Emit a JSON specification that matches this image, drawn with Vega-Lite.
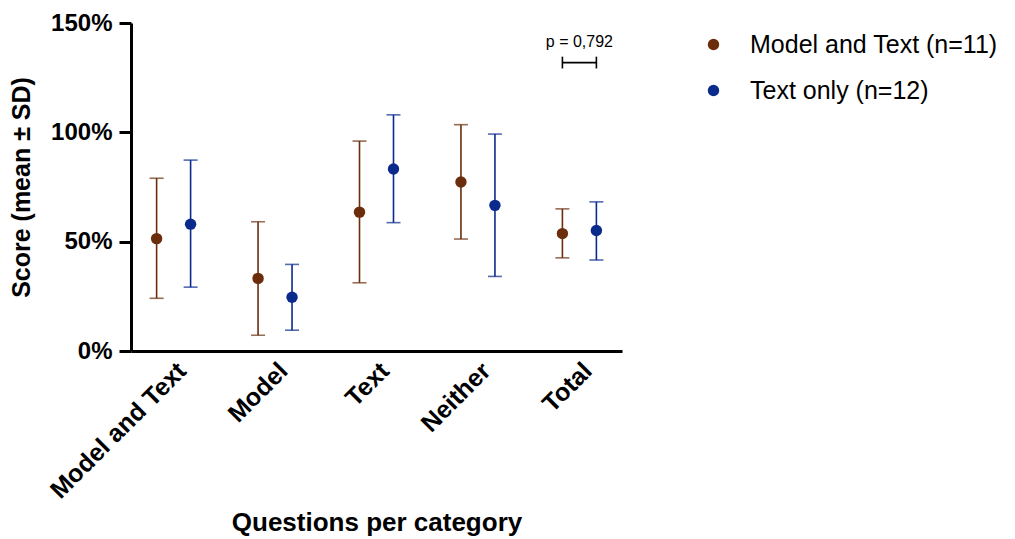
{
  "$schema": "https://vega.github.io/schema/vega-lite/v6.json",
  "width": 491,
  "height": 328,
  "autosize": {"type": "none"},
  "padding": {"left": 131, "top": 23, "right": 393, "bottom": 188},
  "background": "white",
  "config": {
    "view": {"stroke": null},
    "font": "Liberation Sans",
    "axis": {"grid": false}
  },
  "data": {
    "values": [
      {"cat": "Model and Text", "group": "Model and Text (n=11)", "mean": 51.4, "lo": 24.1, "hi": 79.0},
      {"cat": "Model and Text", "group": "Text only (n=12)", "mean": 58.0, "lo": 29.2, "hi": 87.3},
      {"cat": "Model", "group": "Model and Text (n=11)", "mean": 33.2, "lo": 7.2, "hi": 59.1},
      {"cat": "Model", "group": "Text only (n=12)", "mean": 24.6, "lo": 9.5, "hi": 39.6},
      {"cat": "Text", "group": "Model and Text (n=11)", "mean": 63.5, "lo": 31.2, "hi": 96.0},
      {"cat": "Text", "group": "Text only (n=12)", "mean": 83.2, "lo": 58.7, "hi": 108.0},
      {"cat": "Neither", "group": "Model and Text (n=11)", "mean": 77.3, "lo": 51.2, "hi": 103.5},
      {"cat": "Neither", "group": "Text only (n=12)", "mean": 66.6, "lo": 34.1, "hi": 99.2},
      {"cat": "Total", "group": "Model and Text (n=11)", "mean": 53.7, "lo": 42.6, "hi": 65.0},
      {"cat": "Total", "group": "Text only (n=12)", "mean": 55.1, "lo": 41.6, "hi": 68.2}
    ]
  },
  "encoding": {
    "x": {
      "field": "cat",
      "type": "nominal",
      "sort": ["Model and Text", "Model", "Text", "Neither", "Total"],
      "scale": {"paddingInner": 0.33, "paddingOuter": 0.085},
      "axis": {
        "title": "Questions per category",
        "labelAngle": -45,
        "labelFontSize": 25,
        "labelFontWeight": "bold",
        "labelColor": "black",
        "labelPadding": 7,
        "labelLimit": 0,
        "ticks": false,
        "domainWidth": 3,
        "domainColor": "black",
        "titleFontSize": 26,
        "titleFontWeight": "bold",
        "titleColor": "black",
        "titleBaseline": "alphabetic",
        "titleY": 179
      }
    },
    "xOffset": {
      "field": "group",
      "type": "nominal",
      "sort": ["Model and Text (n=11)", "Text only (n=12)"],
      "scale": {"paddingInner": 0, "paddingOuter": 0}
    }
  },
  "layer": [
    {
      "mark": {"type": "point", "filled": true, "size": 130, "opacity": 1, "shape": "circle"},
      "encoding": {
        "y": {
          "field": "mean",
          "type": "quantitative",
          "scale": {"domain": [0, 150], "nice": false, "zero": true},
          "axis": {
            "values": [0, 50, 100, 150],
            "labelExpr": "datum.value + '%'",
            "title": "Score (mean ± SD)",
            "labelFontSize": 24,
            "labelFontWeight": "bold",
            "labelColor": "black",
            "labelPadding": 7,
            "tickSize": 12,
            "tickWidth": 3,
            "tickColor": "black",
            "domainWidth": 3,
            "domainColor": "black",
            "titleFontSize": 25,
            "titleFontWeight": "bold",
            "titleColor": "black",
            "titleX": -97,
            "titleY": 164,
            "titleBaseline": "bottom"
          }
        },
        "color": {
          "field": "group",
          "type": "nominal",
          "scale": {"domain": ["Model and Text (n=11)", "Text only (n=12)"], "range": ["#6B2D0C", "#0A2A8C"]},
          "legend": {
            "orient": "none",
            "legendX": 570,
            "legendY": 9,
            "title": null,
            "labelFontSize": 25,
            "labelFont": "Liberation Sans",
            "labelColor": "black",
            "labelLimit": 0,
            "symbolSize": 130,
            "symbolType": "circle",
            "labelOffset": 24,
            "rowPadding": 20,
            "padding": 0,
            "symbolStrokeWidth": 0,
            "symbolOpacity": 1
          }
        }
      }
    },
    {
      "mark": {"type": "rule", "strokeWidth": 1.6},
      "encoding": {
        "y": {"field": "lo", "type": "quantitative"},
        "y2": {"field": "hi"},
        "color": {"field": "group", "type": "nominal", "legend": null}
      }
    },
    {
      "mark": {"type": "tick", "size": 14, "thickness": 1.6},
      "encoding": {
        "y": {"field": "lo", "type": "quantitative"},
        "color": {"field": "group", "type": "nominal", "legend": null}
      }
    },
    {
      "mark": {"type": "tick", "size": 14, "thickness": 1.6},
      "encoding": {
        "y": {"field": "hi", "type": "quantitative"},
        "color": {"field": "group", "type": "nominal", "legend": null}
      }
    },
    {
      "transform": [{"filter": "datum.cat === 'Total'"}],
      "mark": {"type": "line", "color": "black", "strokeWidth": 1.6},
      "encoding": {
        "y": {"datum": 131.9}
      }
    },
    {
      "transform": [{"filter": "datum.cat === 'Total'"}],
      "mark": {"type": "rule", "color": "black", "strokeWidth": 1.6},
      "encoding": {
        "y": {"datum": 129.2},
        "y2": {"datum": 134.6}
      }
    },
    {
      "transform": [{"filter": "datum.cat === 'Total' && datum.group === 'Text only (n=12)'"}],
      "mark": {"type": "text", "text": "p = 0,792", "fontSize": 16, "color": "black", "baseline": "middle", "font": "Liberation Sans", "dx": 17},
      "encoding": {
        "xOffset": {"datum": "Model and Text (n=11)"},
        "x": {"field": "cat", "type": "nominal"},
        "y": {"datum": 141.5}
      }
    }
  ]
}
